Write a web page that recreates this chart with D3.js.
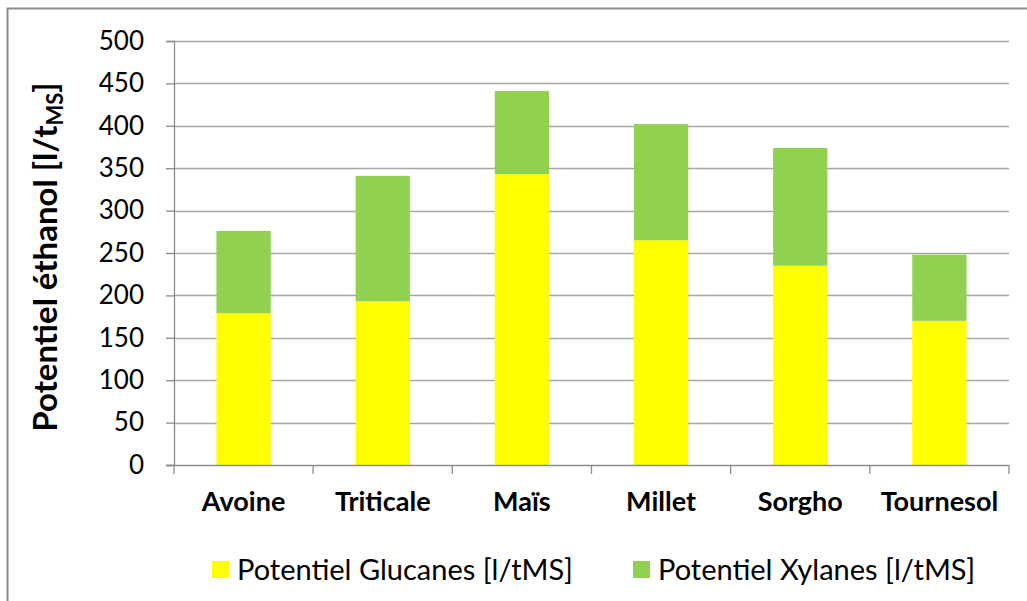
<!DOCTYPE html>
<html>
<head>
<meta charset="utf-8">
<script src="https://cdn.jsdelivr.net/npm/d3@7"></script>
<style>
  body { margin: 0; background: #fff; }
  svg { display: block; font-family: Lato, "Open Sans", sans-serif; }
</style>
</head>
<body>
<svg id="chart" width="1027" height="601"></svg>
<script>
// data
var categories = ["Avoine", "Triticale", "Maïs", "Millet", "Sorgho", "Tournesol"];
var glucanes = [179, 193, 343, 265, 235, 170];
var xylanes = [97, 148, 98, 137, 139, 78];
var seriesNames = ["Potentiel Glucanes [l/tMS]", "Potentiel Xylanes [l/tMS]"];
var seriesColors = ["#ffff00", "#92d050"];
var yTicks = [0, 50, 100, 150, 200, 250, 300, 350, 400, 450, 500];

var svg = d3.select("#chart");

// outer frame
svg.append("rect")
    .attr("x", 7.5).attr("y", 8.5)
    .attr("width", 1040).attr("height", 620)
    .attr("fill", "none").attr("stroke", "#8c8c8c").attr("stroke-width", 2);

var plotL = 174, plotR = 1009, plotT = 41, plotB = 465;

var x = d3.scaleBand().domain(categories).range([plotL, plotR]).paddingInner(0.61).paddingOuter(0.305);
var xOuter = d3.scaleBand().domain(categories).range([plotL, plotR]);
var y = d3.scaleLinear().domain([0, 500]).range([plotB, plotT]);

// gridlines
svg.append("g").selectAll("line")
    .data(yTicks.slice(1))
    .enter().append("line")
    .attr("x1", plotL).attr("x2", plotR)
    .attr("y1", function(d) { return Math.round(y(d)) + 0.5; })
    .attr("y2", function(d) { return Math.round(y(d)) + 0.5; })
    .attr("stroke", "#a6a6a6").attr("stroke-width", 1.3);

// stacked bars
var stack = d3.stack().keys([0, 1]).value(function(d, k) { return d[k]; });
var rows = categories.map(function(c, i) { return [glucanes[i], xylanes[i]]; });
var layers = stack(rows);

svg.append("g").selectAll("g")
    .data(layers)
    .enter().append("g")
    .attr("fill", function(d, i) { return seriesColors[i]; })
    .selectAll("rect")
    .data(function(d) { return d; })
    .enter().append("rect")
    .attr("x", function(d, i) { return x(categories[i]); })
    .attr("width", x.bandwidth())
    .attr("y", function(d) { return y(d[1]); })
    .attr("height", function(d) { return y(d[0]) - y(d[1]); });

// y axis
var yAxis = d3.axisLeft(y).tickValues(yTicks).tickSize(8).tickPadding(22);
var gy = svg.append("g").attr("transform", "translate(" + plotL + ",0)").call(yAxis);
gy.select(".domain").attr("stroke", "#8c8c8c").attr("stroke-width", 1.3);
gy.selectAll(".tick line").attr("stroke", "#8c8c8c").attr("stroke-width", 1.3);
gy.selectAll(".tick text").attr("font-size", 26).attr("fill", "#000").attr("font-family", "Lato, sans-serif");

// x axis baseline with category separators
svg.append("line")
    .attr("x1", plotL - 8).attr("x2", plotR)
    .attr("y1", plotB + 0.5).attr("y2", plotB + 0.5)
    .attr("stroke", "#8c8c8c").attr("stroke-width", 1.3);
svg.append("g").selectAll("line")
    .data(categories.concat(["end"]))
    .enter().append("line")
    .attr("x1", function(d, i) { return i < categories.length ? xOuter(d) : plotR; })
    .attr("x2", function(d, i) { return i < categories.length ? xOuter(d) : plotR; })
    .attr("y1", plotB).attr("y2", plotB + 9)
    .attr("stroke", "#8c8c8c").attr("stroke-width", 1.3);

svg.append("g").selectAll("text")
    .data(categories)
    .enter().append("text")
    .attr("x", function(d) { return xOuter(d) + xOuter.bandwidth() / 2; })
    .attr("y", 511)
    .attr("text-anchor", "middle")
    .attr("font-size", 27).attr("font-weight", "bold")
    .text(function(d) { return d; });

// y label with subscript
var ylab = svg.append("text")
    .attr("transform", "translate(57,257) rotate(-90)")
    .attr("text-anchor", "middle")
    .attr("font-size", 33).attr("font-weight", "bold");
ylab.append("tspan").text("Potentiel éthanol [l/t");
ylab.append("tspan").attr("font-size", 22).attr("dy", 6).text("MS");
ylab.append("tspan").attr("dy", -6).text("]");

// legend
var legendX = [212, 633];
var lg = svg.append("g").selectAll("g")
    .data(seriesNames)
    .enter().append("g")
    .attr("transform", function(d, i) { return "translate(" + legendX[i] + ",561)"; });
lg.append("rect")
    .attr("width", 17).attr("height", 17)
    .attr("fill", function(d, i) { return seriesColors[i]; });
lg.append("text")
    .attr("x", 25).attr("y", 19)
    .attr("font-size", 29)
    .text(function(d) { return d; });
</script>
</body>
</html>
